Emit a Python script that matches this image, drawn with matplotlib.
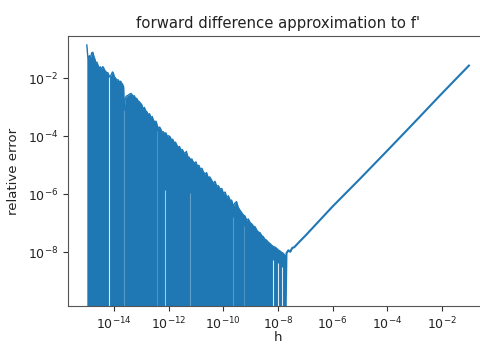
import matplotlib
matplotlib.use("Agg")
import matplotlib.pyplot as plt
import numpy as np

# values (log10 of h and of the relative error)
# upper edge of the noisy round-off region
noise_logh = [-15.01, -14.98, -14.95, -14.91, -14.88, -14.83, -14.79, -14.75, -14.71,
              -14.68, -14.64, -14.60, -14.56, -14.52, -14.48, -14.43, -14.40, -14.36,
              -14.32, -14.28, -14.24, -14.20, -14.16, -14.12, -14.07, -14.04, -14.00,
              -13.95, -13.91, -13.86, -13.82, -13.77, -13.73, -13.69, -13.66, -13.64,
              -13.61, -13.57, -13.53, -13.49, -13.45, -13.40, -13.36, -13.31, -13.27,
              -13.22, -13.18, -13.13, -13.09, -13.04, -13.00, -12.95, -12.90, -12.85,
              -12.81, -12.76, -12.71, -12.66, -12.61, -12.57, -12.52, -12.47, -12.43,
              -12.39, -12.34, -12.30, -12.25, -12.21, -12.16, -12.11, -12.06, -12.01,
              -11.96, -11.91, -11.86, -11.81, -11.76, -11.71, -11.66, -11.61, -11.56,
              -11.51, -11.46, -11.41, -11.36, -11.31, -11.26, -11.21, -11.16, -11.11,
              -11.06, -11.01, -10.96, -10.90, -10.84, -10.79, -10.74, -10.68, -10.62,
              -10.56, -10.50, -10.44, -10.37, -10.31, -10.25, -10.19, -10.12, -10.06,
              -10.00, -9.94, -9.88, -9.82, -9.76, -9.70, -9.64, -9.58, -9.52,
              -9.46, -9.40, -9.34, -9.28, -9.21, -9.15, -9.09, -9.02, -8.96,
              -8.90, -8.84, -8.78, -8.72, -8.66, -8.60, -8.54, -8.48, -8.42,
              -8.36, -8.30, -8.24, -8.17, -8.11, -8.05, -7.99, -7.93, -7.87,
              -7.81, -7.75, -7.72]
noise_logerr = [-0.85, -1.20, -1.32, -1.22, -1.30, -1.12, -1.10, -1.25, -1.35,
                -1.48, -1.44, -1.55, -1.66, -1.60, -1.68, -1.60, -1.62, -1.72,
                -1.75, -1.83, -1.80, -1.90, -1.94, -1.88, -1.78, -1.81, -1.95,
                -2.00, -2.06, -2.05, -2.12, -2.10, -2.17, -2.22, -2.30, -3.09,
                -2.75, -2.62, -2.60, -2.58, -2.55, -2.52, -2.55, -2.62, -2.60,
                -2.70, -2.69, -2.78, -2.80, -2.86, -2.90, -3.05, -3.00, -3.12,
                -3.15, -3.25, -3.22, -3.35, -3.32, -3.44, -3.50, -3.48, -3.62,
                -3.72, -3.68, -3.75, -3.85, -3.84, -3.90, -3.88, -4.00, -3.98,
                -4.01, -4.12, -4.10, -4.22, -4.20, -4.30, -4.38, -4.35, -4.48,
                -4.45, -4.55, -4.59, -4.52, -4.70, -4.72, -4.80, -4.78, -4.88,
                -4.92, -4.88, -5.02, -5.00, -5.15, -5.10, -5.22, -5.30, -5.25,
                -5.42, -5.40, -5.50, -5.62, -5.55, -5.72, -5.70, -5.82, -5.80,
                -5.97, -5.92, -6.10, -6.05, -6.20, -6.20, -6.40, -6.30, -6.25,
                -6.45, -6.54, -6.62, -6.70, -6.75, -6.89, -6.85, -6.98, -7.02,
                -7.10, -7.12, -7.23, -7.30, -7.32, -7.42, -7.46, -7.55, -7.58,
                -7.65, -7.69, -7.75, -7.80, -7.82, -7.86, -7.92, -7.95, -8.00,
                -8.03, -8.10, -8.15]

# smooth truncation-error branch
line_logh = [-7.72, -7.69, -7.62, -7.55, -7.48, -7.40, -7.30, -7.20, -7.0,
             -6.0, -5.0, -4.0, -3.0, -2.0, -1.0]
line_logerr = [-9.9, -8.03, -7.93, -7.98, -7.85, -7.82, -7.72, -7.62, -7.43,
               -6.42, -5.47, -4.50, -3.52, -2.53, -1.56]

# places where the noisy curve does not drop to zero (white slits)
gap_logh = [-14.18, -13.65, -12.45, -12.14, -11.23, -9.64, -9.25, -8.18, -7.99, -7.87]
gap_logtop = [-1.95, -3.1, -3.8, -5.85, -5.97, -6.77, -7.1, -8.27, -8.38, -8.5]
gap_alpha = [0.85, 0.25, 0.2, 0.6, 0.3, 0.25, 0.2, 0.85, 0.85, 0.85]

blue = "#1f77b4"

fig = plt.figure(figsize=(4.8, 3.45), dpi=100)
ax = fig.add_axes([68 / 480, 39 / 345, 420 / 480, 270 / 345])

h_noise = 10.0 ** np.array(noise_logh)
e_noise = 10.0 ** np.array(noise_logerr)
ax.fill_between(h_noise, 1e-12, e_noise, color=blue, linewidth=0)
ax.plot(h_noise, e_noise, color=blue, lw=1.0)
ax.plot(10.0 ** np.array(line_logh), 10.0 ** np.array(line_logerr), color=blue, lw=1.5)

for gh, gt, ga in zip(gap_logh, gap_logtop, gap_alpha):
    ax.vlines(10.0 ** gh, 1e-12, 10.0 ** gt, color="white", lw=0.8, alpha=ga)

ax.set_xscale("log")
ax.set_yscale("log")
ax.set_xlim(10 ** -15.7, 10 ** -0.3)
ax.set_ylim(10 ** -9.85, 10 ** -0.54)
ax.set_xticks([1e-14, 1e-12, 1e-10, 1e-8, 1e-6, 1e-4, 1e-2])
ax.set_yticks([1e-8, 1e-6, 1e-4, 1e-2])
ax.minorticks_off()
ax.tick_params(labelsize=9, colors="#333333", labelcolor="#222222")
for sp in ax.spines.values():
    sp.set_color("#555555")
ax.set_title("forward difference approximation to f'", fontsize=10.7, color="#222222")
ax.set_xlabel("h", fontsize=9.5, color="#222222", labelpad=-1)
ax.set_ylabel("relative error", fontsize=9.5, color="#222222", labelpad=6)

fig.savefig("out.png", dpi=100)
